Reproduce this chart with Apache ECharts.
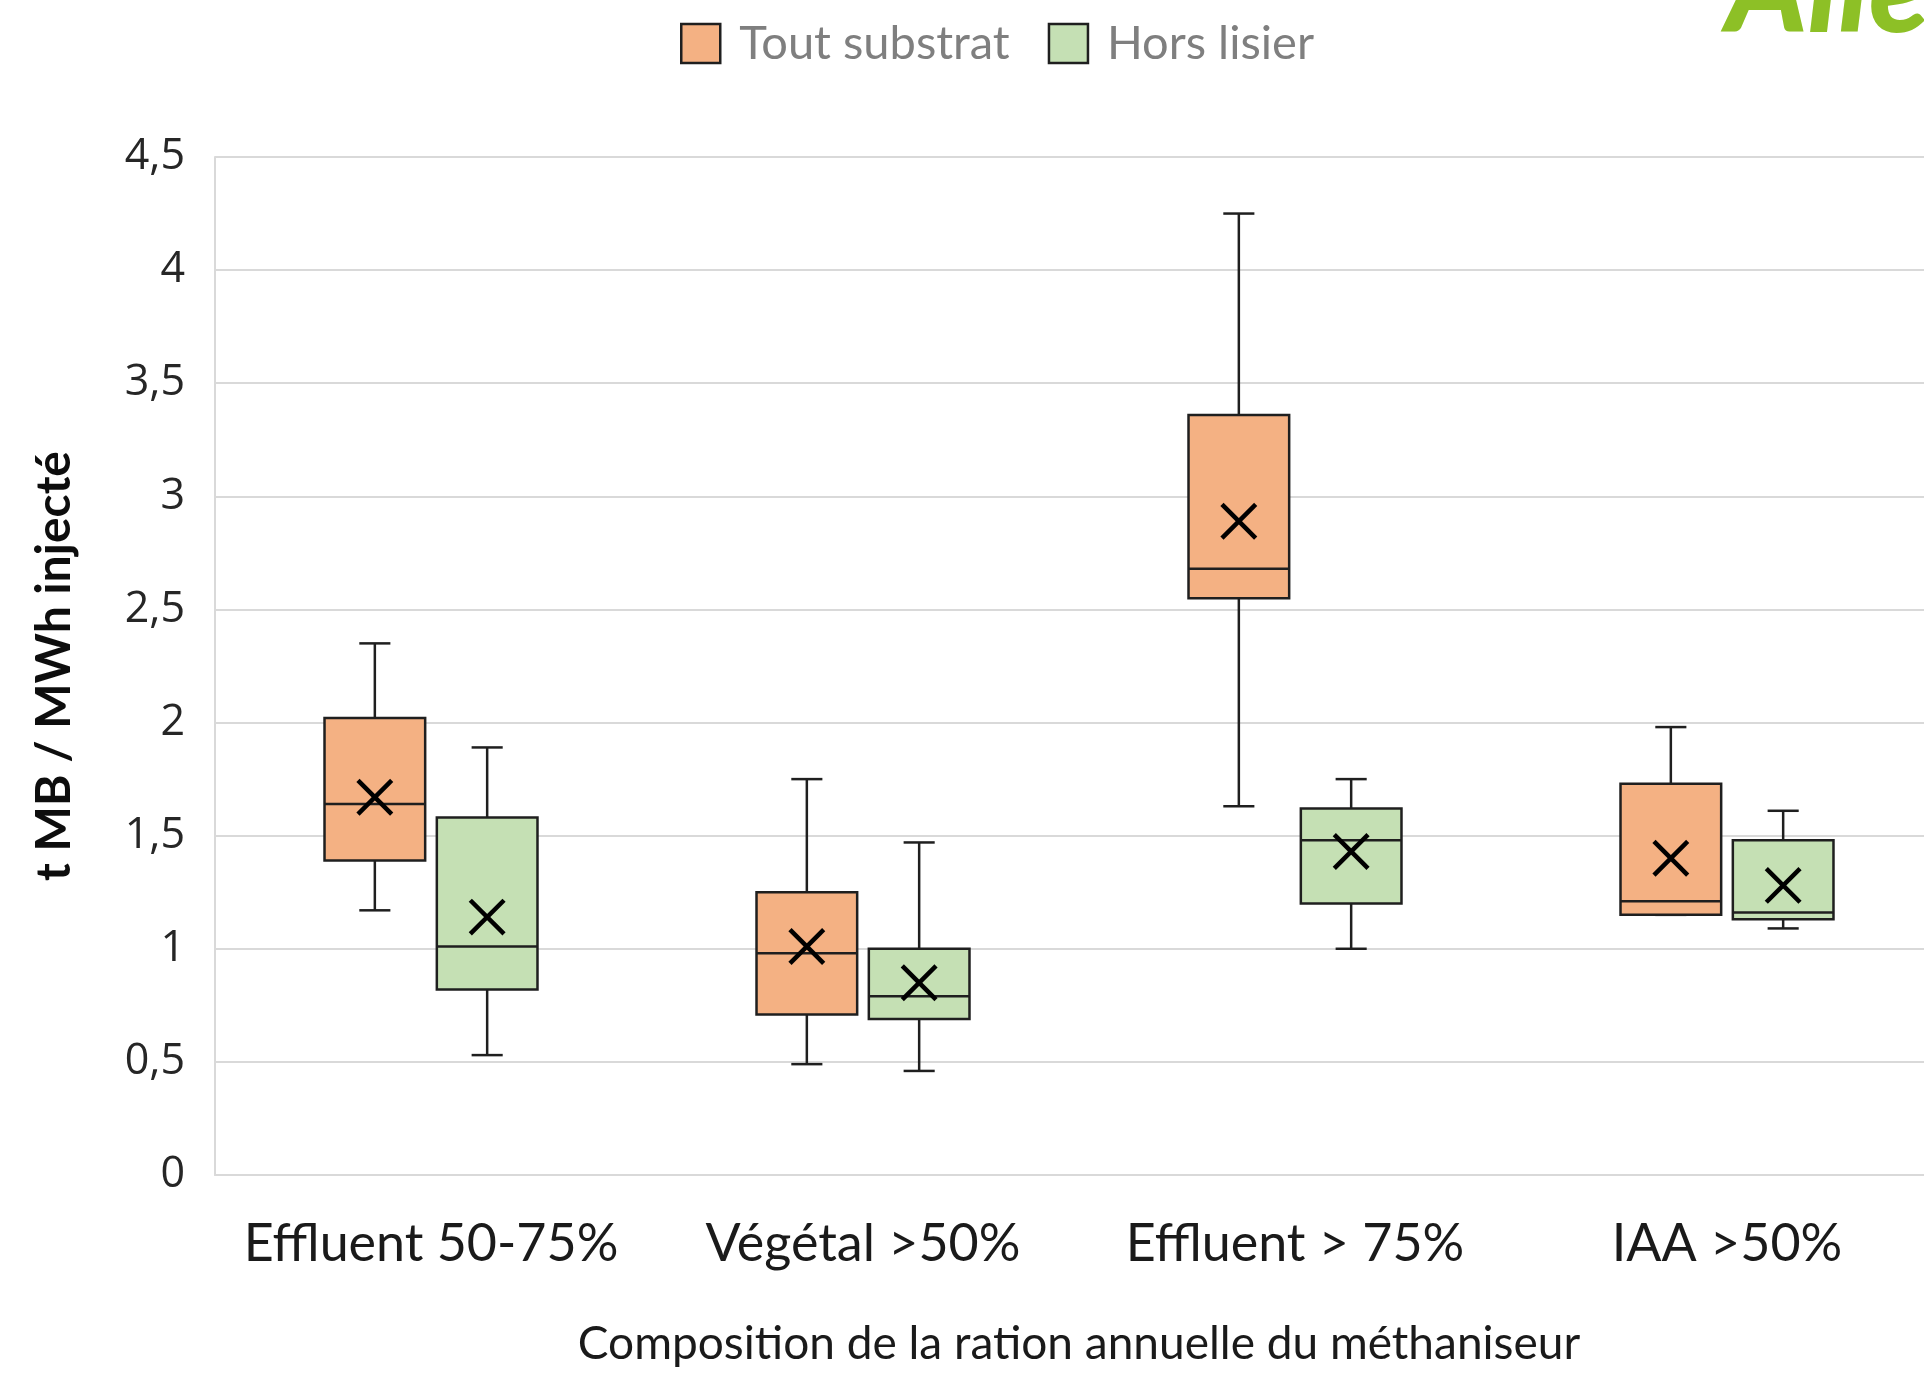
<!DOCTYPE html>
<html>
<head>
<meta charset="utf-8">
<script src="https://cdn.jsdelivr.net/npm/echarts@6/dist/echarts.min.js"></script>
<style>
  html, body { margin: 0; padding: 0; background: #fff; }
  #main { width: 1924px; height: 1397px; }
</style>
</head>
<body>
<div id="main"></div>
<script>
// categories + box stats: [min, q1, median, q3, max]
var categories = ['Effluent 50-75%', 'Végétal >50%', 'Effluent > 75%', 'IAA >50%'];
var toutSubstrat = [
    [1.17, 1.39, 1.64, 2.02, 2.35],
    [0.49, 0.71, 0.98, 1.25, 1.75],
    [1.63, 2.55, 2.68, 3.36, 4.25],
    [1.15, 1.15, 1.21, 1.73, 1.98]
];
var toutMean = [1.67, 1.01, 2.89, 1.40];
var horsLisier = [
    [0.53, 0.82, 1.01, 1.58, 1.89],
    [0.46, 0.69, 0.79, 1.00, 1.47],
    [1.00, 1.20, 1.48, 1.62, 1.75],
    [1.09, 1.13, 1.16, 1.48, 1.61]
];
var horsMean = [1.14, 0.85, 1.43, 1.28];
var yTicks = [0, 0.5, 1, 1.5, 2, 2.5, 3, 3.5, 4, 4.5];

var ORANGE = '#F4B183';
var GREEN = '#C5E0B4';
var LINE = '#1f1f1f';

function buildData(stats, means) {
    return stats.map(function (s, i) {
        return [i].concat(s).concat([means[i]]);
    });
}

function makeRender(offsetFrac, fill) {
    return function (params, api) {
        var cat = api.value(0);
        var band = api.size([1, 0])[0];
        var cx = api.coord([cat, 0])[0] + band * offsetFrac;
        var w = band * 0.233;
        var cap = band * 0.036;
        var xs = band * 0.039;
        var y = function (i) { return api.coord([cat, api.value(i)])[1]; };
        var yMin = y(1), yQ1 = y(2), yMed = y(3), yQ3 = y(4), yMax = y(5), yMean = y(6);
        var ls = { stroke: LINE, lineWidth: 2.5 };
        return {
            type: 'group',
            children: [
                { type: 'line', shape: { x1: cx, y1: yMax, x2: cx, y2: yQ3 }, style: ls },
                { type: 'line', shape: { x1: cx, y1: yQ1, x2: cx, y2: yMin }, style: ls },
                { type: 'line', shape: { x1: cx - cap, y1: yMax, x2: cx + cap, y2: yMax }, style: ls },
                { type: 'line', shape: { x1: cx - cap, y1: yMin, x2: cx + cap, y2: yMin }, style: ls },
                { type: 'rect', shape: { x: cx - w / 2, y: yQ3, width: w, height: yQ1 - yQ3 },
                  style: { fill: fill, stroke: LINE, lineWidth: 2.5 } },
                { type: 'line', shape: { x1: cx - w / 2, y1: yMed, x2: cx + w / 2, y2: yMed }, style: ls },
                { type: 'line', shape: { x1: cx - xs, y1: yMean - xs, x2: cx + xs, y2: yMean + xs },
                  style: { stroke: '#000', lineWidth: 4.5 } },
                { type: 'line', shape: { x1: cx - xs, y1: yMean + xs, x2: cx + xs, y2: yMean - xs },
                  style: { stroke: '#000', lineWidth: 4.5 } }
            ]
        };
    };
}

var chart = echarts.init(document.getElementById('main'));

var option = {
    animation: false,
    backgroundColor: '#fff',
    legend: {
        left: 675,
        top: 15,
        itemWidth: 39,
        itemHeight: 39,
        itemGap: 38,
        icon: 'rect',
        textStyle: {
            fontFamily: 'Lato',
            fontSize: 47,
            color: '#7f7f7f',
            padding: [0, 0, 0, 14]
        },
        data: [
            { name: 'Tout substrat', itemStyle: { color: ORANGE, borderColor: LINE, borderWidth: 2.5 } },
            { name: 'Hors lisier', itemStyle: { color: GREEN, borderColor: LINE, borderWidth: 2.5 } }
        ]
    },
    grid: {
        left: 215,
        top: 157,
        width: 1728,
        height: 1018,
        outerBoundsMode: 'none'
    },
    xAxis: {
        type: 'category',
        data: categories,
        axisLine: { lineStyle: { color: '#d9d9d9', width: 2 } },
        axisTick: { show: false },
        axisLabel: {
            interval: 0,
            fontFamily: 'Lato',
            fontSize: 52,
            color: '#1a1a1a',
            margin: 43
        },
        name: 'Composition de la ration annuelle du méthaniseur',
        nameLocation: 'middle',
        nameGap: 146,
        nameTextStyle: {
            fontFamily: 'Lato',
            fontSize: 46,
            color: '#1a1a1a'
        }
    },
    yAxis: {
        type: 'value',
        min: 0,
        max: 4.5,
        interval: 0.5,
        axisLine: { show: true, lineStyle: { color: '#d9d9d9', width: 2 } },
        axisTick: { show: false },
        splitLine: { lineStyle: { color: '#d9d9d9', width: 2 } },
        axisLabel: {
            fontFamily: 'Open Sans',
            fontSize: 43,
            color: '#262626',
            margin: 30,
            formatter: function (v) { return String(v).replace('.', ','); }
        },
        name: 't MB / MWh injecté',
        nameLocation: 'middle',
        nameGap: 136,
        nameTextStyle: {
            fontFamily: 'Lato',
            fontWeight: 'bold',
            fontSize: 48,
            color: '#0d0d0d'
        }
    },
    graphic: [
        {
            type: 'text',
            left: 1726,
            top: -70,
            style: {
                text: 'Aile',
                font: 'italic 900 124px Lato',
                fill: '#8DC026'
            }
        }
    ],
    series: [
        {
            name: 'Tout substrat',
            type: 'custom',
            itemStyle: { color: ORANGE, borderColor: LINE },
            renderItem: makeRender(-0.13, ORANGE),
            encode: { x: 0, y: [1, 2, 3, 4, 5, 6] },
            data: buildData(toutSubstrat, toutMean)
        },
        {
            name: 'Hors lisier',
            type: 'custom',
            itemStyle: { color: GREEN, borderColor: LINE },
            renderItem: makeRender(0.13, GREEN),
            encode: { x: 0, y: [1, 2, 3, 4, 5, 6] },
            data: buildData(horsLisier, horsMean)
        }
    ]
};

chart.setOption(option);
</script>
</body>
</html>
